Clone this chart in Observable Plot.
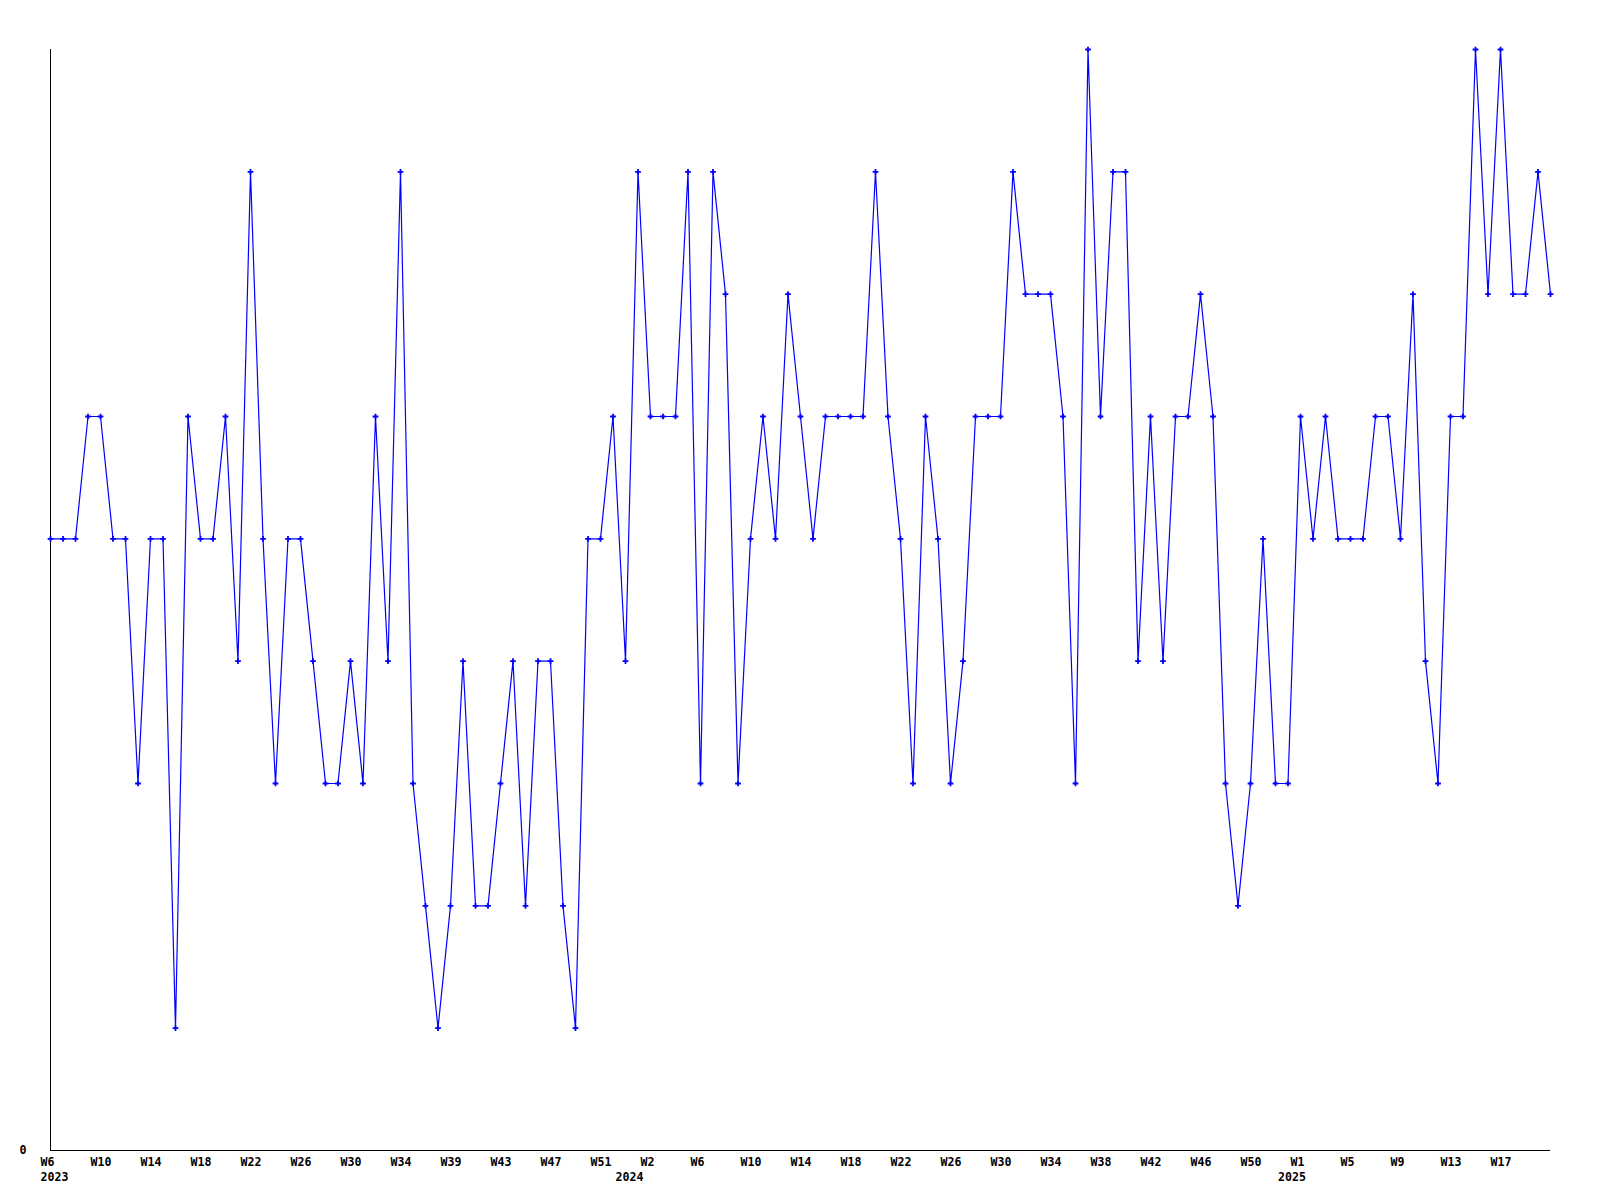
<!DOCTYPE html>
<html>
<head>
<meta charset="utf-8">
<script src="https://cdn.jsdelivr.net/npm/d3@7"></script>
<script src="https://cdn.jsdelivr.net/npm/@observablehq/plot@0.6"></script>
<style>
  html, body { margin: 0; padding: 0; background: #ffffff; }
</style>
</head>
<body>
<div id="chart"></div>
<script>
// Week categories (one point per week), grouped by year
const weeks2023 = ["W6","W7","W8","W9","W10","W11","W12","W13","W14","W15","W16","W17","W18","W19","W20","W21","W22","W23","W24","W25","W26","W27","W28","W29","W30","W31","W32","W33","W34","W36","W37","W38","W39","W40","W41","W42","W43","W44","W45","W46","W47","W48","W49","W50","W51","W52"];
const weeks2024 = ["W0","W1","W2","W3","W4","W5","W6","W7","W8","W9","W10","W11","W12","W13","W14","W15","W16","W17","W18","W19","W20","W21","W22","W23","W24","W25","W26","W27","W28","W29","W30","W31","W32","W33","W34","W35","W36","W37","W38","W39","W40","W41","W42","W43","W44","W45","W46","W47","W48","W49","W50","W51","W52"];
const weeks2025 = ["W0","W1","W2","W3","W4","W5","W6","W7","W8","W9","W10","W11","W12","W13","W14","W15","W16","W17","W18","W19","W20","W21"];
const years = ["2023", "2024", "2025"];

// Series values
const values = [
  5,5,5,6,6,5,5,3,5,5,
  1,6,5,5,6,4,8,5,3,5,
  5,4,3,3,4,3,6,4,8,3,
  2,1,2,4,2,2,3,4,2,4,
  4,2,1,5,5,6,4,8,6,6,
  6,8,3,8,7,3,5,6,5,7,
  6,5,6,6,6,6,8,6,5,3,
  6,5,3,4,6,6,6,8,7,7,
  7,6,3,9,6,8,8,4,6,4,
  6,6,7,6,3,2,3,5,3,3,
  6,5,6,5,5,5,6,6,5,7,
  4,3,6,6,9,7,9,7,7,8,7
];

const yTicks = [0];

// Build table
const weekGroups = [weeks2023, weeks2024, weeks2025];
const data = [];
weekGroups.forEach((ws, yi) => {
  ws.forEach((w, k) => {
    data.push({i: data.length, year: years[yi], week: w, value: values[data.length], first: k === 0});
  });
});
// every 4th week labelled; the last point gets no label
const tickIdx = data.filter(d => d.i % 4 === 0 && d.i < data.length - 1).map(d => d.i);
const yearStarts = data.filter(d => d.first);

const font = "'DejaVu Sans Mono', 'Liberation Mono', monospace";

const chart = Plot.plot({
  width: 1600,
  height: 1200,
  marginLeft: 50,
  marginRight: 50,
  marginTop: 49,
  marginBottom: 50,
  style: {background: "#ffffff", fontFamily: font, fontSize: "11.6px", fontWeight: "bold", color: "#000000"},
  x: {type: "linear", domain: [0, data.length - 1], label: null},
  y: {domain: [0, 9], label: null},
  marks: [
    Plot.ruleX([0], {stroke: "#000000", strokeWidth: 1}),
    Plot.ruleY([0], {stroke: "#000000", strokeWidth: 1}),
    Plot.axisY({ticks: yTicks, tickSize: 0, tickPadding: 24, tickFormat: d => String(d), label: null, fill: "#000000"}),
    Plot.axisX({ticks: tickIdx, tickSize: 0, tickPadding: 7, tickFormat: i => data[i].week, textAnchor: "start", dx: -10, label: null, fill: "#000000"}),
    Plot.text(yearStarts, {x: "i", text: "year", frameAnchor: "bottom", textAnchor: "start", dx: -10, dy: 27, lineAnchor: "middle", fill: "#000000"}),
    Plot.line(data, {x: "i", y: "value", stroke: "#0000ff", strokeWidth: 1.2}),
    Plot.dot(data, {x: "i", y: "value", symbol: "plus", r: 2, stroke: "#0000ff", strokeWidth: 1.8})
  ]
});
document.getElementById("chart").appendChild(chart);
</script>
</body>
</html>
